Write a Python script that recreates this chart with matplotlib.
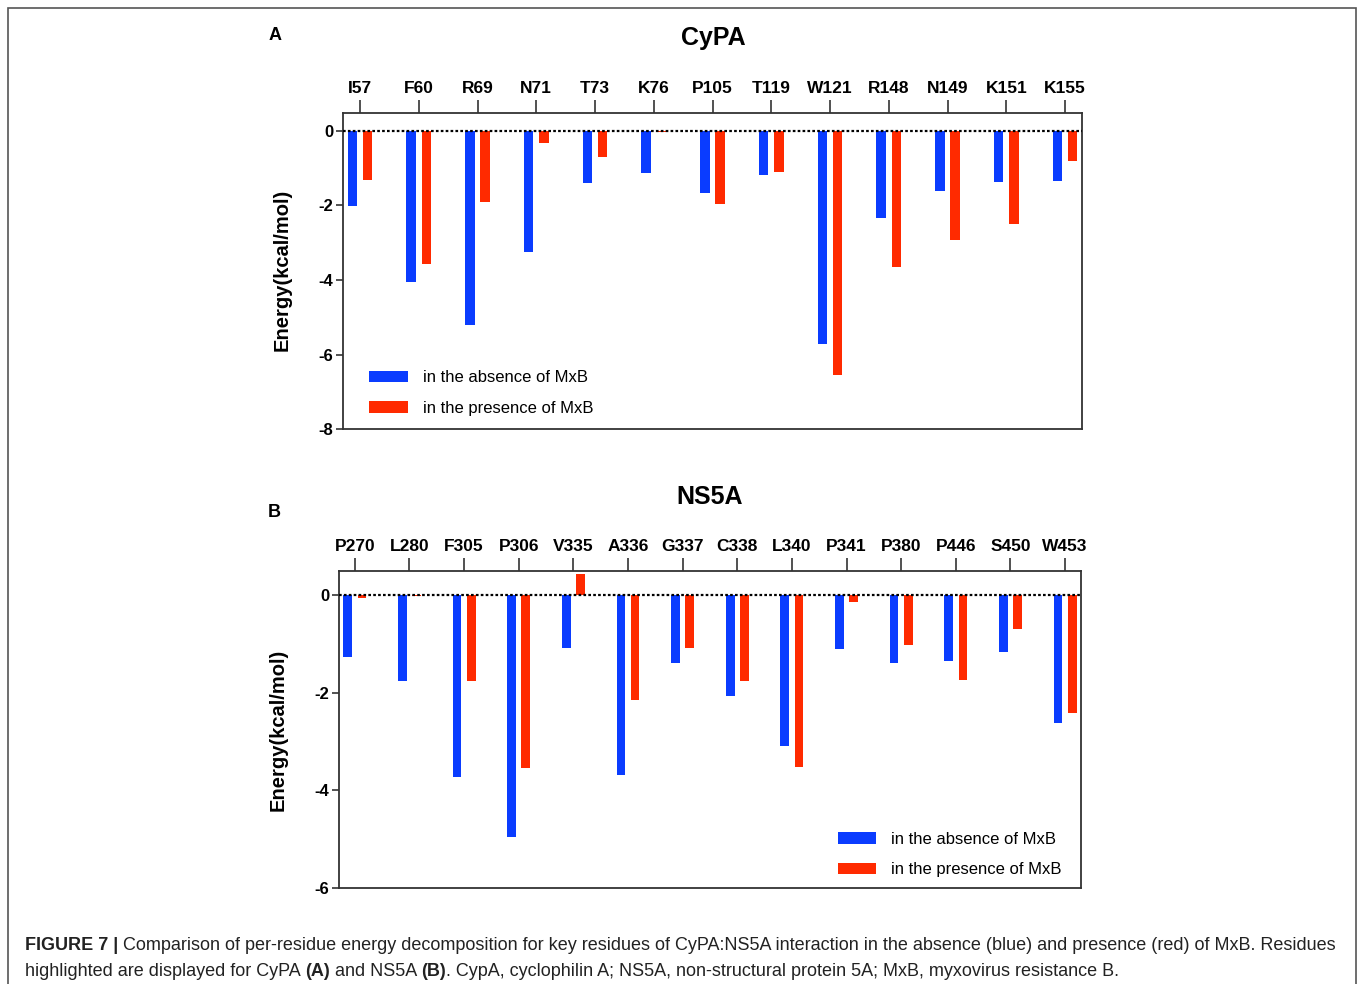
import matplotlib
matplotlib.use("Agg")
import matplotlib.pyplot as plt
from matplotlib.patches import Rectangle
import numpy as np

plt.rcParams["font.family"] = ["Liberation Sans", "DejaVu Sans"]

# Panel A: CyPA residues
cypa_res = ["I57", "F60", "R69", "N71", "T73", "K76", "P105", "T119",
            "W121", "R148", "N149", "K151", "K155"]
cypa_absent = [-2.02, -4.05, -5.20, -3.26, -1.41, -1.13, -1.66, -1.19,
               -5.73, -2.34, -1.61, -1.37, -1.34]
cypa_present = [-1.32, -3.56, -1.92, -0.33, -0.69, -0.03, -1.96, -1.10,
                -6.56, -3.64, -2.93, -2.50, -0.81]

# Panel B: NS5A residues
ns5a_res = ["P270", "L280", "F305", "P306", "V335", "A336", "G337", "C338",
            "L340", "P341", "P380", "P446", "S450", "W453"]
ns5a_absent = [-1.26, -1.75, -3.72, -4.96, -1.07, -3.69, -1.38, -2.06,
               -3.09, -1.09, -1.38, -1.34, -1.16, -2.61]
ns5a_present = [-0.05, -0.02, -1.76, -3.53, 0.44, -2.14, -1.07, -1.75,
                -3.52, -0.14, -1.01, -1.74, -0.69, -2.42]

BLUE = "#0a3cff"
RED = "#ff2a00"
EDGE = "#333333"


def draw_panel(ax, residues, absent, present, ylim, yticks, legend_loc, bbox):
    x = np.arange(len(residues))
    w = 0.16
    ax.bar(x - 0.13, absent, w, color=BLUE, label="in the absence of MxB", zorder=2)
    ax.bar(x + 0.13, present, w, color=RED, label="in the presence of MxB", zorder=2)
    ax.axhline(0, color="black", lw=1.6, ls=(0, (1.2, 1.0)), zorder=3)

    ax.set_xlim(-0.29, len(residues) - 0.71)
    ax.set_ylim(*ylim)
    ax.set_yticks(yticks)
    ax.set_yticklabels([f"{t:d}" for t in yticks], fontweight="bold", fontsize=12)

    ax.xaxis.tick_top()
    ax.set_xticks(x)
    ax.set_xticklabels(residues, fontweight="bold", fontsize=12.5)
    ax.tick_params(axis="x", direction="out", length=9.5, width=1.2, pad=3, colors=EDGE,
                   labelcolor="black")
    ax.tick_params(axis="y", direction="out", length=5, width=1.2, pad=2, colors=EDGE,
                   labelcolor="black")
    for sp in ax.spines.values():
        sp.set_linewidth(1.3)
        sp.set_color(EDGE)

    ax.legend(loc=legend_loc, bbox_to_anchor=bbox, frameon=False, fontsize=12,
              handlelength=2.3, handleheight=0.7, handletextpad=0.9,
              labelspacing=0.92, borderpad=0.2)


def draw_runs(fig, x, y, runs, fontsize, color):
    # draw text pieces one after another on the same baseline
    renderer = fig.canvas.get_renderer()
    inv = fig.transFigure.inverted()
    for txt, weight in runs:
        t = fig.text(x, y, txt, fontsize=fontsize, fontweight=weight, color=color,
                     ha="left", va="baseline")
        bb = t.get_window_extent(renderer=renderer)
        x = inv.transform((bb.x1, bb.y0))[0]


fig = plt.figure(figsize=(13.58, 9.84), dpi=100)

# outer frame
fig.patches.append(Rectangle((8 / 1358, -0.01), 1348 / 1358, 1 - 8 / 984 + 0.01,
                             transform=fig.transFigure, fill=False,
                             edgecolor="#555555", lw=1.2))

axA = fig.add_axes([0.2526, 0.564, 0.5442, 0.3211])
draw_panel(axA, cypa_res, cypa_absent, cypa_present, (-8, 0.48),
           [-8, -6, -4, -2, 0], "lower left", (0.02, 0.005))

axB = fig.add_axes([0.2496, 0.0976, 0.5464, 0.3221])
draw_panel(axB, ns5a_res, ns5a_absent, ns5a_present, (-6, 0.5),
           [-6, -4, -2, 0], "lower right", (0.99, -0.003))

fig.text(0.525, 0.961, "CyPA", fontsize=18, fontweight="bold", ha="center", va="center")
fig.text(0.5228, 0.495, "NS5A", fontsize=18, fontweight="bold", ha="center", va="center")
fig.text(0.2025, 0.9644, "A", fontsize=13, fontweight="bold", ha="center", va="center")
fig.text(0.2018, 0.4787, "B", fontsize=13, fontweight="bold", ha="center", va="center")

fig.text(0.2077, 0.7256, "Energy(kcal/mol)", fontsize=14.5, fontweight="bold",
         rotation=90, ha="center", va="center")
fig.text(0.2047, 0.258, "Energy(kcal/mol)", fontsize=14.5, fontweight="bold",
         rotation=90, ha="center", va="center")

cap_x = 25 / 1358
draw_runs(fig, cap_x, 1 - 950 / 984,
          [("FIGURE 7 | ", "bold"),
           ("Comparison of per-residue energy decomposition for key residues of "
            "CyPA:NS5A interaction in the absence (blue) and presence (red) of MxB. "
            "Residues", "normal")],
          12.95, "#222222")
draw_runs(fig, cap_x, 1 - 976 / 984,
          [("highlighted are displayed for CyPA ", "normal"),
           ("(A)", "bold"),
           (" and NS5A ", "normal"),
           ("(B)", "bold"),
           (". CypA, cyclophilin A; NS5A, non-structural protein 5A; MxB, "
            "myxovirus resistance B.", "normal")],
          12.95, "#222222")

fig.savefig("out.png", dpi=100)
